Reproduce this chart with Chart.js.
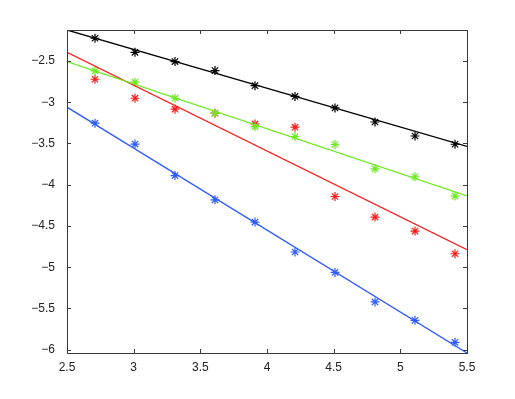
<!DOCTYPE html>
<html><head><meta charset="utf-8">
<script src="https://cdn.jsdelivr.net/npm/chart.js@4"></script>
<style>html,body{margin:0;padding:0;background:#fff}#wrap{width:515px;height:399px}</style>
</head><body><div id="wrap"><canvas id="c" width="515" height="399"></canvas></div>
<script>
const xVals = [2.71, 3.01, 3.31, 3.61, 3.91, 4.21, 4.51, 4.81, 5.11, 5.41];
const blackPts = [-2.225, -2.395, -2.508, -2.617, -2.80, -2.93, -3.07, -3.24, -3.41, -3.51];
const greenPts = [-2.621, -2.758, -2.952, -3.133, -3.295, -3.416, -3.513, -3.808, -3.904, -4.138];
const redPts   = [-2.722, -2.952, -3.085, -3.133, -3.263, -3.303, -4.143, -4.392, -4.562, -4.837];
const bluePts  = [-3.254, -3.508, -3.889, -4.183, -4.453, -4.816, -5.063, -5.421, -5.644, -5.911];
const fitX = [2.5, 5.5];
const blackFit = [-2.125, -3.537];
const greenFit = [-2.508, -4.135];
const redFit   = [-2.395, -4.788];
const blueFit  = [-3.06, -6.04];
const xTicks = [2.5, 3, 3.5, 4, 4.5, 5, 5.5];
const yTicks = [-6, -5.5, -5, -4.5, -4, -3.5, -3, -2.5];

const cBlack = '#000000', cGreen = '#6eea22', cRed = '#ff1a1a', cBlue = '#2f5cff';
function pts(xs, ys){ return xs.map((x,i)=>({x:x, y:ys[i]})); }
function scatterDs(ys, col){ return {type:'scatter', data: pts(xVals, ys), pointStyle:'star', pointRadius:4.5, borderColor:col, backgroundColor:col, pointBorderWidth:1.2, showLine:false}; }
function lineDs(ys, col){ return {type:'line', data: pts(fitX, ys), borderColor:col, borderWidth:1.3, pointRadius:0, fill:false, tension:0}; }

const boxPlugin = {
  id:'box',
  afterDraw(chart){
    const ctx = chart.ctx, a = chart.chartArea, xs = chart.scales.x, ys = chart.scales.y;
    ctx.save();
    ctx.strokeStyle = '#3a3a3a'; ctx.lineWidth = 1;
    ctx.strokeRect(Math.round(a.left)+0.5, Math.round(a.top)+0.5, Math.round(a.right-a.left), Math.round(a.bottom-a.top));
    ctx.beginPath();
    const L = 4;
    xTicks.forEach(v=>{ const p = Math.round(xs.getPixelForValue(v))+0.5;
      ctx.moveTo(p, a.bottom); ctx.lineTo(p, a.bottom-L);
      ctx.moveTo(p, a.top); ctx.lineTo(p, a.top+L); });
    yTicks.forEach(v=>{ const p = Math.round(ys.getPixelForValue(v))+0.5;
      ctx.moveTo(a.left, p); ctx.lineTo(a.left+L, p);
      ctx.moveTo(a.right, p); ctx.lineTo(a.right-L, p); });
    ctx.stroke();
    ctx.restore();
  }
};

new Chart(document.getElementById('c'), {
  data: { datasets: [
    lineDs(blackFit, cBlack), lineDs(greenFit, cGreen), lineDs(redFit, cRed), lineDs(blueFit, cBlue),
    scatterDs(blackPts, cBlack), scatterDs(greenPts, cGreen), scatterDs(redPts, cRed), scatterDs(bluePts, cBlue)
  ]},
  options: {
    responsive:false, animation:false, devicePixelRatio:1,
    layout:{ padding:{ left:0, right:48, top:30, bottom:0 } },
    plugins:{ legend:{display:false}, tooltip:{enabled:false} },
    scales:{
      x:{ type:'linear', min:2.5, max:5.5,
        afterBuildTicks(s){ s.ticks = xTicks.map(v=>({value:v})); },
        afterFit(s){ s.height = 46; },
        grid:{display:false}, border:{display:false},
        ticks:{ color:'#222', font:{family:'Liberation Sans', size:12}, padding:-1, maxRotation:0, autoSkip:false,
          callback:(v)=>String(v) } },
      y:{ type:'linear', min:-6.04, max:-2.125,
        afterBuildTicks(s){ s.ticks = yTicks.map(v=>({value:v})); },
        afterFit(s){ s.width = 67; },
        grid:{display:false}, border:{display:false},
        ticks:{ color:'#222', font:{family:'Liberation Sans', size:12}, padding:4, autoSkip:false,
          callback:(v)=>String(v).replace('-', '\u2212') } }
    }
  },
  plugins:[boxPlugin]
});
</script></body></html>
